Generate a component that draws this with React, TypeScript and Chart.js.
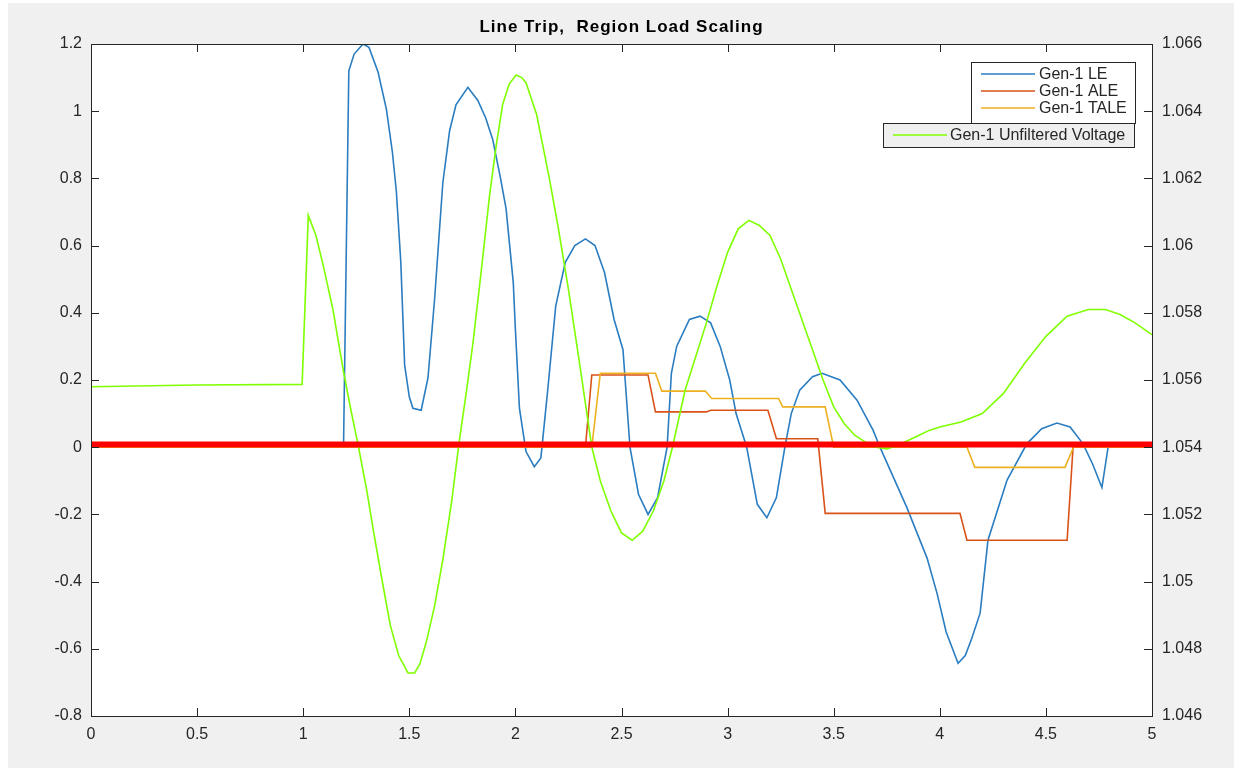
import React, { useEffect, useRef } from 'react';
import { Chart, registerables } from 'chart.js';

Chart.register(...registerables);

// ---------- data ----------
const titleText = 'Line Trip,  Region Load Scaling';

const leTime = [0, 1.19, 1.215, 1.24, 1.282, 1.31, 1.353, 1.392, 1.42, 1.439, 1.46, 1.478, 1.5, 1.517, 1.556, 1.588, 1.619, 1.658, 1.69, 1.72, 1.776, 1.823, 1.86, 1.893, 1.93, 1.956, 1.99, 2.0, 2.019, 2.05, 2.089, 2.12, 2.152, 2.19, 2.235, 2.28, 2.33, 2.375, 2.42, 2.465, 2.507, 2.54, 2.58, 2.625, 2.67, 2.715, 2.735, 2.76, 2.82, 2.87, 2.92, 2.965, 3.01, 3.04, 3.09, 3.14, 3.185, 3.23, 3.27, 3.3, 3.34, 3.4, 3.445, 3.53, 3.61, 3.686, 3.718, 3.845, 3.94, 3.987, 4.03, 4.086, 4.12, 4.15, 4.19, 4.227, 4.317, 4.41, 4.48, 4.552, 4.614, 4.675, 4.72, 4.764, 4.793, 5.0];
const leValues = [0, 0, 1.12, 1.17, 1.2, 1.19, 1.116, 1.006, 0.88, 0.761, 0.55, 0.245, 0.15, 0.116, 0.11, 0.206, 0.439, 0.787, 0.942, 1.019, 1.071, 1.032, 0.98, 0.916, 0.8, 0.71, 0.49, 0.35, 0.116, -0.013, -0.058, -0.032, 0.168, 0.42, 0.55, 0.6, 0.62, 0.6, 0.52, 0.38, 0.29, 0.0, -0.14, -0.2, -0.15, 0.0, 0.22, 0.3, 0.38, 0.39, 0.37, 0.3, 0.2, 0.1, 0.0, -0.17, -0.21, -0.15, 0.0, 0.1, 0.17, 0.21, 0.22, 0.2, 0.14, 0.05, 0.0, -0.18, -0.33, -0.435, -0.55, -0.643, -0.62, -0.57, -0.494, -0.277, -0.098, 0.01, 0.055, 0.072, 0.06, 0.01, -0.05, -0.12, 0.0, 0.0];

const aleTime = [0, 2.33, 2.36, 2.625, 2.66, 2.9, 2.92, 3.19, 3.23, 3.425, 3.46, 4.095, 4.128, 4.6, 4.628, 5.0];
const aleValues = [0, 0, 0.215, 0.215, 0.105, 0.105, 0.11, 0.11, 0.025, 0.025, -0.197, -0.197, -0.277, -0.277, 0, 0];

const taleTime = [0, 2.36, 2.4, 2.66, 2.69, 2.895, 2.925, 3.24, 3.26, 3.46, 3.5, 4.128, 4.165, 4.59, 4.63, 5.0];
const taleValues = [0, 0, 0.22, 0.22, 0.167, 0.167, 0.145, 0.145, 0.12, 0.12, 0, 0, -0.06, -0.06, 0, 0];

const voltTime = [0, 0.5, 0.995, 1.024, 1.06, 1.094, 1.14, 1.188, 1.225, 1.259, 1.3, 1.33, 1.37, 1.41, 1.45, 1.494, 1.525, 1.55, 1.58, 1.62, 1.658, 1.7, 1.733, 1.77, 1.8, 1.84, 1.878, 1.91, 1.94, 1.97, 2.003, 2.03, 2.05, 2.1, 2.16, 2.2, 2.25, 2.3, 2.36, 2.4, 2.45, 2.5, 2.55, 2.6, 2.65, 2.7, 2.74, 2.8, 2.86, 2.9, 2.95, 3.0, 3.05, 3.1, 3.15, 3.2, 3.25, 3.3, 3.35, 3.4, 3.45, 3.5, 3.55, 3.6, 3.65, 3.7, 3.75, 3.8, 3.85, 3.9, 3.95, 4.0, 4.1, 4.2, 4.3, 4.4, 4.5, 4.6, 4.7, 4.78, 4.85, 4.92, 5.0];
const voltValues = [1.0558, 1.05585, 1.05587, 1.0609, 1.0603, 1.05942, 1.0581, 1.05632, 1.0551, 1.05406, 1.0527, 1.05155, 1.0501, 1.04871, 1.0478, 1.04728, 1.04728, 1.04755, 1.0482, 1.0493, 1.05065, 1.0524, 1.05406, 1.0557, 1.0571, 1.0593, 1.06148, 1.063, 1.0642, 1.0648, 1.06508, 1.065, 1.06485, 1.0639, 1.062, 1.0606, 1.0587, 1.0566, 1.054, 1.053, 1.0521, 1.05145, 1.05123, 1.0515, 1.0521, 1.053, 1.054, 1.0557, 1.0569, 1.0577, 1.0588, 1.0598, 1.0605, 1.06075, 1.0606, 1.0603, 1.0596, 1.0587, 1.0578, 1.0569, 1.056, 1.0552, 1.0547, 1.05435, 1.05415, 1.054, 1.05395, 1.05405, 1.0542, 1.05435, 1.0545, 1.0546, 1.05475, 1.055, 1.0556, 1.0565, 1.0573, 1.0579, 1.0581, 1.0581, 1.05795, 1.0577, 1.05735];

const refTime = [0, 5];
const refValues = [0.008, 0.008];

const xTicks = [0, 0.5, 1, 1.5, 2, 2.5, 3, 3.5, 4, 4.5, 5];
const leftTicks = [-0.8, -0.6, -0.4, -0.2, 0, 0.2, 0.4, 0.6, 0.8, 1, 1.2];
const rightTicks = [1.046, 1.048, 1.05, 1.052, 1.054, 1.056, 1.058, 1.06, 1.062, 1.064, 1.066];

const legendMain = ['Gen-1 LE', 'Gen-1 ALE', 'Gen-1 TALE'];
const legendVolt = 'Gen-1 Unfiltered Voltage';

const pts = (xs: number[], ys: number[]) => xs.map((x, i) => ({ x, y: ys[i] }));

const FONT = '"Liberation Sans", Arial, Helvetica, sans-serif';
const AX = '#262626';

const decor = {
  id: 'matlabDecor',
  beforeDraw(chart: any) {
    const { ctx, chartArea: a, width, height } = chart;
    ctx.save();
    ctx.fillStyle = '#f0f0f0';
    ctx.fillRect(0, 0, width, height);
    ctx.fillStyle = '#ffffff';
    ctx.fillRect(a.left, a.top, a.right - a.left, a.bottom - a.top);
    ctx.restore();
  },
  afterDraw(chart: any) {
    const { ctx, chartArea: a, scales } = chart;
    ctx.save();
    // box
    ctx.strokeStyle = AX;
    ctx.lineWidth = 1;
    ctx.strokeRect(a.left + 0.5, a.top + 0.5, a.right - a.left, a.bottom - a.top);
    // ticks
    const TL = 8;
    ctx.beginPath();
    for (const v of xTicks) {
      const px = Math.round(scales.x.getPixelForValue(v)) + 0.5;
      ctx.moveTo(px, a.bottom);
      ctx.lineTo(px, a.bottom - TL);
      ctx.moveTo(px, a.top);
      ctx.lineTo(px, a.top + TL);
    }
    for (const v of leftTicks) {
      const py = Math.round(scales.y.getPixelForValue(v)) + 0.5;
      ctx.moveTo(a.left, py);
      ctx.lineTo(a.left + TL, py);
    }
    for (const v of rightTicks) {
      const py = Math.round(scales.y1.getPixelForValue(v)) + 0.5;
      ctx.moveTo(a.right, py);
      ctx.lineTo(a.right - TL, py);
    }
    ctx.stroke();

    // title
    ctx.fillStyle = '#000';
    ctx.font = `bold 17px ${FONT}`;
    ctx.textAlign = 'center';
    ctx.textBaseline = 'middle';
    (ctx as any).letterSpacing = '1px';
    ctx.fillText(titleText, (a.left + a.right) / 2, 24);
    (ctx as any).letterSpacing = '0px';

    // legend 1
    const ds = chart.data.datasets;
    ctx.fillStyle = '#ffffff';
    ctx.fillRect(963, 59, 164, 61);
    ctx.strokeStyle = AX;
    ctx.lineWidth = 1;
    ctx.strokeRect(963.5, 59.5, 164, 61);
    ctx.font = `16px ${FONT}`;
    ctx.textAlign = 'left';
    const rows = [71, 88, 105];
    legendMain.forEach((lab, i) => {
      const d = ds.find((q: any) => q.label === lab);
      ctx.strokeStyle = d.borderColor;
      ctx.lineWidth = 1.5;
      ctx.beginPath();
      ctx.moveTo(973, rows[i]);
      ctx.lineTo(1027, rows[i]);
      ctx.stroke();
      ctx.fillStyle = AX;
      ctx.fillText(lab, 1031, rows[i] + 1);
    });
    // legend 2
    ctx.fillStyle = '#efefef';
    ctx.fillRect(875, 120, 251, 24);
    ctx.strokeStyle = AX;
    ctx.lineWidth = 1;
    ctx.strokeRect(875.5, 120.5, 251, 24);
    const dv = ds.find((q: any) => q.label === legendVolt);
    ctx.strokeStyle = dv.borderColor;
    ctx.lineWidth = 1.5;
    ctx.beginPath();
    ctx.moveTo(885, 132);
    ctx.lineTo(939, 132);
    ctx.stroke();
    ctx.fillStyle = AX;
    ctx.fillText(legendVolt, 942, 133);
    ctx.restore();
  },
};

export default function App() {
  const ref = useRef<HTMLCanvasElement>(null);
  useEffect(() => {
    const line = (label: string, xs: number[], ys: number[], color: string, width: number, axis: string, order: number) => ({
      label,
      data: pts(xs, ys),
      borderColor: color,
      backgroundColor: color,
      borderWidth: width,
      pointRadius: 0,
      tension: 0,
      fill: false,
      yAxisID: axis,
      order,
    });
    const chart = new Chart(ref.current!, {
      type: 'line',
      data: {
        datasets: [
          line(legendMain[0], leTime, leValues, '#2a7dc0', 1.6, 'y', 5),
          line(legendMain[1], aleTime, aleValues, '#d95319', 1.6, 'y', 4),
          line(legendMain[2], taleTime, taleValues, '#edb120', 1.6, 'y', 3),
          line(legendVolt, voltTime, voltValues, '#7fff00', 1.6, 'y1', 2),
          line('reference', refTime, refValues, '#ff0000', 6, 'y', 1),
        ] as any,
      },
      options: {
        animation: false,
        responsive: false,
        devicePixelRatio: 1,
        parsing: false as any,
        layout: { padding: { top: 41, left: 0, right: 0, bottom: 0 } },
        plugins: { legend: { display: false }, title: { display: false }, tooltip: { enabled: false } },
        scales: {
          x: {
            type: 'linear',
            position: 'bottom',
            min: 0,
            max: 5,
            afterBuildTicks: (s: any) => { s.ticks = xTicks.map((v) => ({ value: v })); },
            ticks: { font: { size: 16, family: FONT }, color: AX, padding: 9, maxRotation: 0, autoSkip: false, callback: (v: any) => String(v) },
            grid: { display: false, drawTicks: false },
            border: { display: false },
            afterFit: (s: any) => { s.height = 52; },
          },
          y: {
            type: 'linear',
            position: 'left',
            min: -0.8,
            max: 1.2,
            afterBuildTicks: (s: any) => { s.ticks = leftTicks.map((v) => ({ value: v })); },
            ticks: { font: { size: 16, family: FONT }, color: AX, padding: 9, autoSkip: false, callback: (v: any) => String(v) },
            grid: { display: false, drawTicks: false },
            border: { display: false },
            afterFit: (s: any) => { s.width = 83; },
          },
          y1: {
            type: 'linear',
            position: 'right',
            min: 1.046,
            max: 1.066,
            afterBuildTicks: (s: any) => { s.ticks = rightTicks.map((v) => ({ value: v })); },
            ticks: { font: { size: 16, family: FONT }, color: AX, padding: 10, autoSkip: false, callback: (v: any) => String(Number(Number(v).toFixed(3))) },
            grid: { display: false, drawTicks: false },
            border: { display: false },
            afterFit: (s: any) => { s.width = 82; },
          },
        },
      } as any,
      plugins: [decor],
    });
    return () => chart.destroy();
  }, []);
  return (
    <div style={{ position: 'fixed', left: 8, top: 3, width: 1226, height: 765 }}>
      <canvas ref={ref} width={1226} height={765} style={{ display: 'block', width: 1226, height: 765 }} />
    </div>
  );
}
